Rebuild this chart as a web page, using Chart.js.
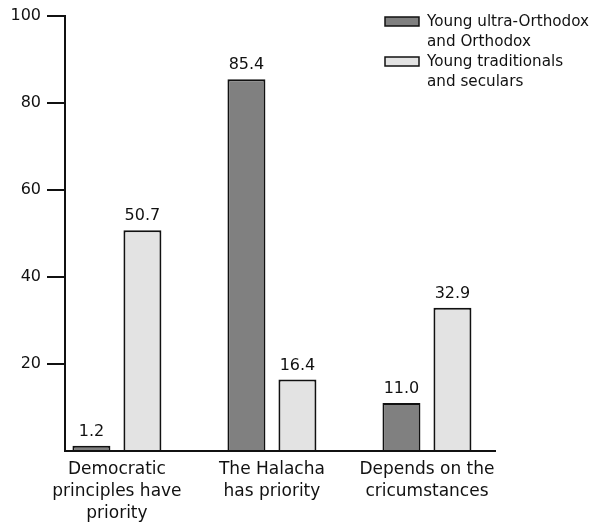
<!DOCTYPE html>
<html>
<head>
<meta charset="utf-8">
<script src="https://cdn.jsdelivr.net/npm/chart.js@4/dist/chart.umd.min.js"></script>
<style>
  html, body { margin: 0; padding: 0; background: #fff; }
  #wrap { width: 597px; height: 522px; }
</style>
</head>
<body>
<div id="wrap"><canvas id="chart"></canvas></div>
<script>
// categories and values
const categories = [
    ['Democratic', 'principles have', 'priority'],
    ['The Halacha', 'has priority'],
    ['Depends on the', 'cricumstances'],
];
const orthodox_values = [1.2, 85.4, 11.0];
const secular_values = [50.7, 16.4, 32.9];
const series_labels = [
    ['Young ultra-Orthodox', 'and Orthodox'],
    ['Young traditionals', 'and seculars'],
];
const y_ticks = [0, 20, 40, 60, 80, 100];

Chart.defaults.font.family = '"DejaVu Sans", Verdana, sans-serif';
Chart.defaults.color = '#111';

// value labels above each bar
const bar_value_labels = {
    id: 'bar_value_labels',
    afterDatasetsDraw(chart) {
        const ctx = chart.ctx;
        ctx.save();
        ctx.font = '16px "DejaVu Sans"';
        ctx.fillStyle = '#111';
        ctx.textAlign = 'center';
        ctx.textBaseline = 'alphabetic';
        chart.data.datasets.forEach((ds, i) => {
            chart.getDatasetMeta(i).data.forEach((bar, j) => {
                ctx.fillText(ds.data[j].y.toFixed(1), bar.x, bar.y - 10);
            });
        });
        ctx.restore();
    }
};

// legend with two-line labels, top right
const two_line_legend = {
    id: 'two_line_legend',
    afterDraw(chart) {
        const ctx = chart.ctx;
        ctx.save();
        ctx.font = '15.2px "DejaVu Sans"';
        ctx.textBaseline = 'middle';
        let y = 22;
        chart.data.datasets.forEach((ds) => {
            ctx.fillStyle = ds.backgroundColor;
            ctx.fillRect(385, y - 5, 34, 9);
            ctx.strokeStyle = '#111';
            ctx.lineWidth = 1.5;
            ctx.strokeRect(385, y - 5, 34, 9);
            ctx.fillStyle = '#111';
            ds.label.forEach((line) => {
                ctx.fillText(line, 427, y);
                y += 20;
            });
        });
        ctx.restore();
    }
};

const to_points = (values) => values.map((v, i) => ({ x: i, y: v }));

new Chart(document.getElementById('chart').getContext('2d'), {
    type: 'bar',
    data: {
        datasets: [
            {
                label: series_labels[0],
                data: to_points(orthodox_values),
                backgroundColor: '#808080',
                borderColor: '#111',
                borderWidth: 2,
            },
            {
                label: series_labels[1],
                data: to_points(secular_values),
                backgroundColor: '#e3e3e3',
                borderColor: '#111',
                borderWidth: 2,
            },
        ],
    },
    options: {
        responsive: true,
        maintainAspectRatio: false,
        animation: false,
        categoryPercentage: 0.658,
        barPercentage: 0.745,
        layout: {
            padding: { top: 14, right: 102, left: 0, bottom: 0 },
        },
        plugins: {
            legend: { display: false },
            tooltip: { enabled: false },
        },
        scales: {
            x: {
                type: 'linear',
                offset: false,
                min: -0.335,
                max: 2.439,
                afterBuildTicks(scale) {
                    scale.ticks = categories.map((c, i) => ({ value: i }));
                },
                afterFit(scale) {
                    scale.height = 71;
                },
                ticks: {
                    font: { size: 17, lineHeight: '22px' },
                    padding: 8,
                    maxRotation: 0,
                    autoSkip: false,
                    callback: (v) => categories[v],
                },
                grid: { display: false, tickLength: 0 },
                border: { display: true, color: '#111', width: 2 },
            },
            y: {
                min: 0,
                max: 100,
                afterBuildTicks(scale) {
                    scale.ticks = y_ticks.map((v) => ({ value: v }));
                },
                afterFit(scale) {
                    scale.width = 65;
                },
                ticks: {
                    font: { size: 16 },
                    padding: 6,
                    callback: (v) => (v === 0 ? '' : v),
                },
                grid: {
                    drawOnChartArea: false,
                    tickLength: 18,
                    lineWidth: 2,
                    color: (c) => (c.tick && c.tick.value === 0 ? 'rgba(0,0,0,0)' : '#111'),
                },
                border: { display: true, color: '#111', width: 2 },
            },
        },
    },
    plugins: [bar_value_labels, two_line_legend],
});
</script>
</body>
</html>
